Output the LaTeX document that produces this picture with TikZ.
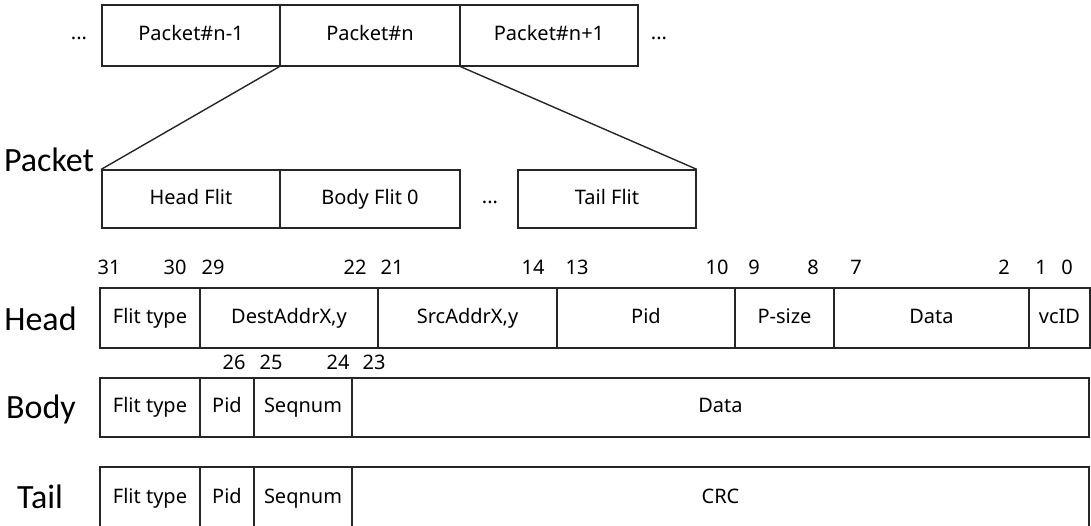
\documentclass[tikz,border=0pt]{standalone}
\usepackage{fontspec}
\setmainfont{Noto Sans}
\newfontfamily\labelfont{Carlito}
\begin{document}
\begin{tikzpicture}[x=1pt,y=-1pt,
  cellbox/.style={draw=black!85, line width=1.4pt, inner sep=0pt, font=\fontsize{20}{24}\selectfont, text height=14pt, text depth=4pt},
  bitnum/.style={inner sep=0pt, font=\fontsize{20}{24}\selectfont, text height=14pt, text depth=0pt},
  rowlabel/.style={inner sep=0pt, font=\labelfont\fontsize{34}{40}\selectfont, text height=22pt, text depth=0pt},
  dots/.style={inner sep=0pt, font=\fontsize{20}{24}\selectfont},
  link/.style={draw=black!85, line width=1.4pt}]
\useasboundingbox (0,0) rectangle (1091,525);
\clip (0,0) rectangle (1091,525);
\newcommand{\cell}[6]{%
  \pgfmathsetmacro{\cw}{#3-#2}\pgfmathsetmacro{\ch}{#5-#4}%
  \node[cellbox, minimum width=\cw pt, minimum height=\ch pt] (#1) at ({(#2+#3)/2},{(#4+#5)/2}) {#6};}
% top packet stream
\cell{pa}{102}{280}{5}{66}{Packet\#n-1}
\cell{pn}{280}{460}{5}{66}{Packet\#n}
\cell{pb}{460}{638}{5}{66}{Packet\#n+1}
\node[dots] (dl) at (79,38) {...};
\node[dots] (dr) at (659,38) {...};
% packet flits
\cell{hf}{102}{280}{170}{228}{Head Flit}
\cell{bf}{280}{460}{170}{228}{Body Flit 0}
\cell{tf}{518}{696}{170}{228}{Tail Flit}
\node[dots] (dm) at (490,202) {...};
\node[rowlabel] (lpacket) at (49,160) {Packet};
\draw[link] (pn.south west) -- (hf.north west);
\draw[link] (pn.south east) -- (tf.north east);
% head flit
\node[rowlabel] (lhead) at (40.5,319) {Head};
\cell{h1}{100}{200}{288}{348}{Flit type}
\cell{h2}{200}{378}{288}{348}{DestAddrX,y}
\cell{h3}{378}{557}{288}{348}{SrcAddrX,y}
\cell{h4}{557}{735}{288}{348}{Pid}
\cell{h5}{735}{834}{288}{348}{P-size}
\cell{h6}{834}{1029}{288}{348}{Data}
\cell{h7}{1029}{1090}{288}{348}{vcID}
\foreach \n/\x in {31/109,30/175,29/213,22/355,21/392,14/533,13/577,10/717,9/754,8/813,7/856,2/1004,1/1041,0/1067}
  \node[bitnum] (n\n) at (\x,267) {\n};
\foreach \n/\x in {26/234,25/271,24/338,23/374}
  \node[bitnum] (m\n) at (\x,362) {\n};
% body flit
\node[rowlabel] (lbody) at (41,407) {Body};
\cell{b1}{100}{200}{378}{437}{Flit type}
\cell{b2}{200}{254}{378}{437}{Pid}
\cell{b3}{254}{352}{378}{437}{Seqnum}
\cell{b4}{352}{1089}{378}{437}{Data}
% tail flit
\node[rowlabel] (ltail) at (40,497) {Tail};
\cell{t1}{100}{200}{467}{530}{Flit type}
\cell{t2}{200}{254}{467}{530}{Pid}
\cell{t3}{254}{352}{467}{530}{Seqnum}
\cell{t4}{352}{1089}{467}{530}{CRC}
\end{tikzpicture}
\end{document}
